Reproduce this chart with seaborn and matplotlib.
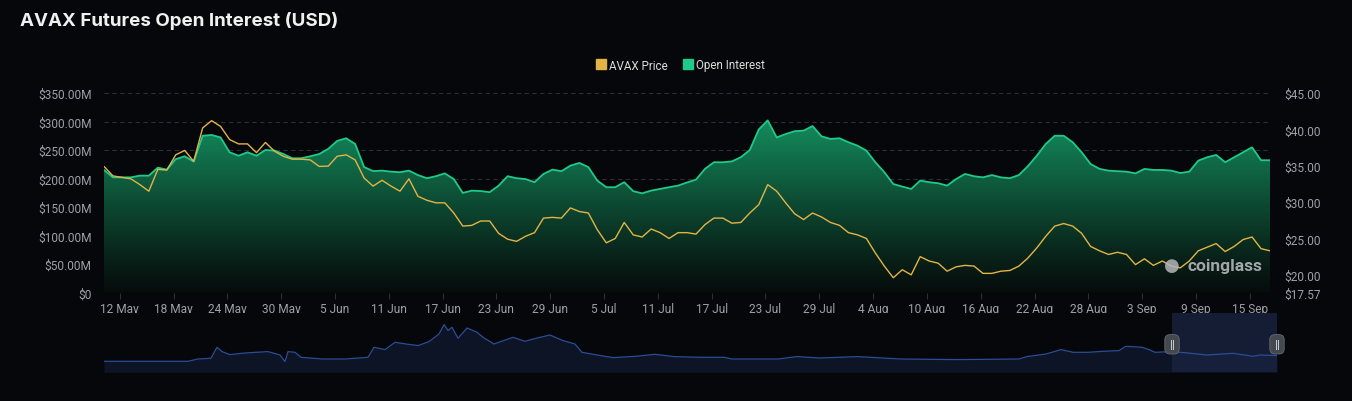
import numpy as np
import pandas as pd
import matplotlib
matplotlib.use("Agg")
import matplotlib.pyplot as plt
import matplotlib.dates as mdates
from matplotlib.lines import Line2D
import seaborn as sns

# daily values, starting 10 May 2024
start_date = "2024-05-10 06:00"

open_interest_m = [215, 202, 202, 202, 205, 205, 219, 215.6, 234, 239,
                   229.6, 275, 276.4, 272, 246, 240, 246, 240, 250, 249,
                   243, 235.5, 235.5, 239, 243, 252, 266, 270.6, 260.6, 220,
                   213, 213.8, 212, 211, 213.8, 206, 200.5, 204, 209, 199,
                   174.7, 178.7, 178, 176, 187.5, 204, 200.5, 199, 193.5, 208,
                   215.6, 212.8, 222.6, 227.3, 220, 196.3, 184.7, 184.7, 193.5, 177.8,
                   174, 178.7, 181.7, 184.7, 187.5, 193, 198, 216.8, 228.5, 228.5,
                   230, 237.3, 250, 286, 302, 272, 278, 283, 284, 292,
                   274, 269.4, 270.6, 263.6, 257.7, 248.9, 228.5, 211, 190.3, 185.8,
                   181.7, 196.3, 193.5, 191.7, 187.5, 199, 208, 204, 202, 206,
                   202, 200.5, 206, 221.5, 240, 260.6, 275, 275, 263.6, 246,
                   225.4, 216.8, 213.8, 212.8, 212, 209, 216.8, 215, 215, 213.8,
                   209.6, 212, 231.3, 237.3, 241.3, 228.5, 237.3, 246, 254.7, 232,
                   232]

avax_price = [34.9, 33.6, 33.4, 33.2, 32.4, 31.5, 34.5, 34.4, 36.5, 37.1,
              35.6, 40.2, 41.2, 40.4, 38.6, 38.0, 38.0, 36.8, 38.2, 37.0,
              36.3, 35.9, 35.9, 35.8, 34.9, 34.95, 36.3, 36.5, 35.8, 33.3,
              32.2, 33.0, 32.2, 31.5, 33.2, 30.8, 30.25, 29.9, 29.9, 28.5,
              26.7, 26.8, 27.4, 27.4, 25.7, 24.9, 24.6, 25.3, 25.8, 27.8,
              27.9, 27.8, 29.2, 28.7, 28.5, 26.2, 24.4, 25.0, 27.2, 25.5,
              25.2, 26.3, 25.8, 25.0, 25.8, 25.8, 25.6, 26.9, 27.8, 27.8,
              27.1, 27.2, 28.5, 29.65, 32.4, 31.5, 29.9, 28.4, 27.6, 28.5,
              27.95, 27.2, 26.8, 25.8, 25.5, 25.0, 23.0, 21.2, 19.6, 20.7,
              20.0, 22.5, 21.9, 21.6, 20.5, 21.1, 21.3, 21.2, 20.2, 20.2,
              20.5, 20.6, 21.2, 22.3, 23.7, 25.3, 26.7, 27.05, 26.7, 25.7,
              23.9, 23.3, 22.8, 23.1, 22.8, 21.4, 22.2, 21.3, 21.9, 21.2,
              20.96, 21.9, 23.3, 23.8, 24.3, 23.2, 23.9, 24.85, 25.2, 23.6,
              23.3]

# overview strip (navigator) over the full history
nav_pos = [0, 0.0716, 0.0801, 0.0912, 0.0963, 0.1006, 0.1074, 0.1202, 0.1398, 0.15,
           0.1543, 0.1569, 0.1628, 0.1679, 0.1858, 0.2055, 0.2251, 0.2302, 0.2396, 0.2481,
           0.2575, 0.2677, 0.2771, 0.2856, 0.2899, 0.2933, 0.2967, 0.3018, 0.3095, 0.318,
           0.3231, 0.3325, 0.3487, 0.3589, 0.3683, 0.3802, 0.3913, 0.4015, 0.4075, 0.4203,
           0.4339, 0.4535, 0.4697, 0.4859, 0.5081, 0.5286, 0.5354, 0.5746, 0.5908, 0.6104,
           0.6428, 0.6786, 0.728, 0.7801, 0.7869, 0.8031, 0.8159, 0.8261, 0.8389, 0.8517,
           0.8653, 0.8713, 0.8849, 0.8909, 0.896, 0.9105, 0.9241, 0.9403, 0.9625, 0.9795,
           0.9855, 1.0]
nav_val = [11, 11, 13.3, 14, 25, 20.7, 17.7, 19.3, 20.7, 17.3,
           10.7, 20.7, 20, 15, 13.3, 13.3, 15, 25, 22.7, 30,
           28.3, 26.7, 30.7, 38.3, 47.7, 41.7, 45, 34, 44.3, 40,
           35, 28.3, 35, 31, 34, 37.3, 31.7, 28.3, 20, 17.3,
           14.7, 16, 18, 15.7, 15, 15, 13.3, 13.3, 15.7, 14.3,
           15.7, 13.3, 12.7, 13.3, 15.7, 18.3, 22.7, 20, 20, 21,
           21.7, 26, 25, 22.7, 20, 20.7, 19.3, 17.3, 19, 16,
           17.3, 16.7]
nav_window = (0.9105, 1.0)

oi_ticks = [0, 50, 100, 150, 200, 250, 300, 350]
price_ticks = [17.57, 20, 25, 30, 35, 40, 45]
date_ticks = pd.date_range("2024-05-12", "2024-09-15", freq="6D")

bg = "#06070b"
sns.set_theme(style="dark", rc={"figure.facecolor": bg, "axes.facecolor": bg,
                                "savefig.facecolor": bg})
plt.rcParams["font.family"] = ["Roboto", "DejaVu Sans"]

dates = pd.date_range(start_date, periods=len(open_interest_m), freq="D")
df = pd.DataFrame({"date": dates, "oi": open_interest_m, "price": avax_price})

fig = plt.figure(figsize=(13.52, 4.02), dpi=100)
ax = fig.add_axes([104 / 1352, 1 - 293.5 / 402, 1166 / 1352, 199.5 / 402])
ax2 = ax.twinx()

# gradient fill under open interest
poly = ax.fill_between(df["date"], df["oi"], 0, color="none", lw=0)
x0, x1 = mdates.date2num(dates[0]), mdates.date2num(dates[-1])
top_c = np.array([20, 140, 93]) / 255
bot_c = np.array([6, 12, 11]) / 255
t = np.linspace(1, 0, 256)[:, None]
grad = (bot_c + (top_c - bot_c) * t[..., None] ** 1.1) * np.ones((256, 2, 3))
im = ax.imshow(grad, extent=[x0, x1, 0, max(open_interest_m)], aspect="auto",
               origin="upper", zorder=1)
im.set_clip_path(poly.get_paths()[0], transform=ax.transData)

sns.lineplot(data=df, x="date", y="oi", ax=ax, color="#1fc98a", lw=1.3, zorder=3)
sns.lineplot(data=df, x="date", y="price", ax=ax2, color="#e2b445", lw=1.0, zorder=4)

ax.set_xlim(x0, x1)
ax.set_ylim(0, 350)
ax2.set_ylim(17.57, 45)
ax.set_xlabel("")
ax.set_ylabel("")
ax2.set_ylabel("")

ax.set_yticks(oi_ticks)
ax.set_yticklabels(["$0"] + [f"${v:.2f}M" for v in oi_ticks[1:]])
ax2.set_yticks(price_ticks)
ax2.set_yticklabels([f"${v:.2f}" for v in price_ticks])
ax.set_xticks(date_ticks)
ax.set_xticklabels([f"{d.day} {d:%b}" for d in date_ticks])

ax.grid(axis="y", color="#2b2e35", ls=(0, (4, 3)), lw=0.8)
ax.grid(axis="x", visible=False)
ax2.grid(False)
for a in (ax, ax2):
    for s in a.spines.values():
        s.set_visible(False)
    a.set_axisbelow(True)
ax.tick_params(axis="y", length=0, pad=9, labelsize=8.6, labelcolor="#9da0a6")
ax2.tick_params(axis="y", length=0, pad=10, labelsize=8.6, labelcolor="#9da0a6")
ax.tick_params(axis="x", length=4, width=0.8, color="#2b2e35", pad=3,
               labelsize=8.6, labelcolor="#9da0a6", bottom=True)

# navigator strip
nav = fig.add_axes([104 / 1352, 1 - 373.3 / 402, 1173 / 1352, 59.3 / 402])
nav.set_facecolor(bg)
nav.fill_between(nav_pos, nav_val, 0, color="#0c1426", lw=0)
nav.plot(nav_pos, nav_val, color="#2c4d96", lw=0.9)
nav.axvspan(nav_window[0], nav_window[1], color="#1a2541", alpha=0.75, lw=0)
for hx in nav_window:
    nav.text(hx, 28, "ǁ", ha="center", va="center", fontsize=7.5, color="#c8ccd4",
             family="DejaVu Sans",
             bbox=dict(boxstyle="round,pad=0.45,rounding_size=0.5", fc="#44484f",
                       ec="#666a72", lw=0.6))
nav.set_xlim(0, 1)
nav.set_ylim(0, 59.3)
nav.set_xticks([])
nav.set_yticks([])
nav.grid(False)
for s in nav.spines.values():
    s.set_visible(False)

# title, legend, watermark
fig.text(20 / 1352, 1 - 21 / 402, "AVAX Futures Open Interest (USD)", color="#f0f0f0",
         fontsize=13.5, fontweight="bold", va="center", family=["Inter", "DejaVu Sans"])
handles = [Line2D([], [], ls="", marker="s", ms=7, color="#e2b445"),
           Line2D([], [], ls="", marker="s", ms=7, color="#1fc98a")]
fig.legend(handles, ["AVAX Price", "Open Interest"], loc="center",
           bbox_to_anchor=(680 / 1352, 1 - 66 / 402), ncol=2, frameon=False,
           fontsize=8.4, labelcolor="#dcdcdc", handletextpad=0.2, columnspacing=1.2,
           handlelength=1.0)
fig.text(1188 / 1352, 1 - 267 / 402, "coinglass", color="#b4b6ba", fontsize=12.5,
         fontweight="bold", va="center", alpha=0.9)
fig.text(1172 / 1352, 1 - 266 / 402, "●", color="#b4b6ba", fontsize=13,
         ha="center", va="center", alpha=0.85, family="DejaVu Sans")

fig.savefig("out.png", dpi=100, facecolor=bg)
